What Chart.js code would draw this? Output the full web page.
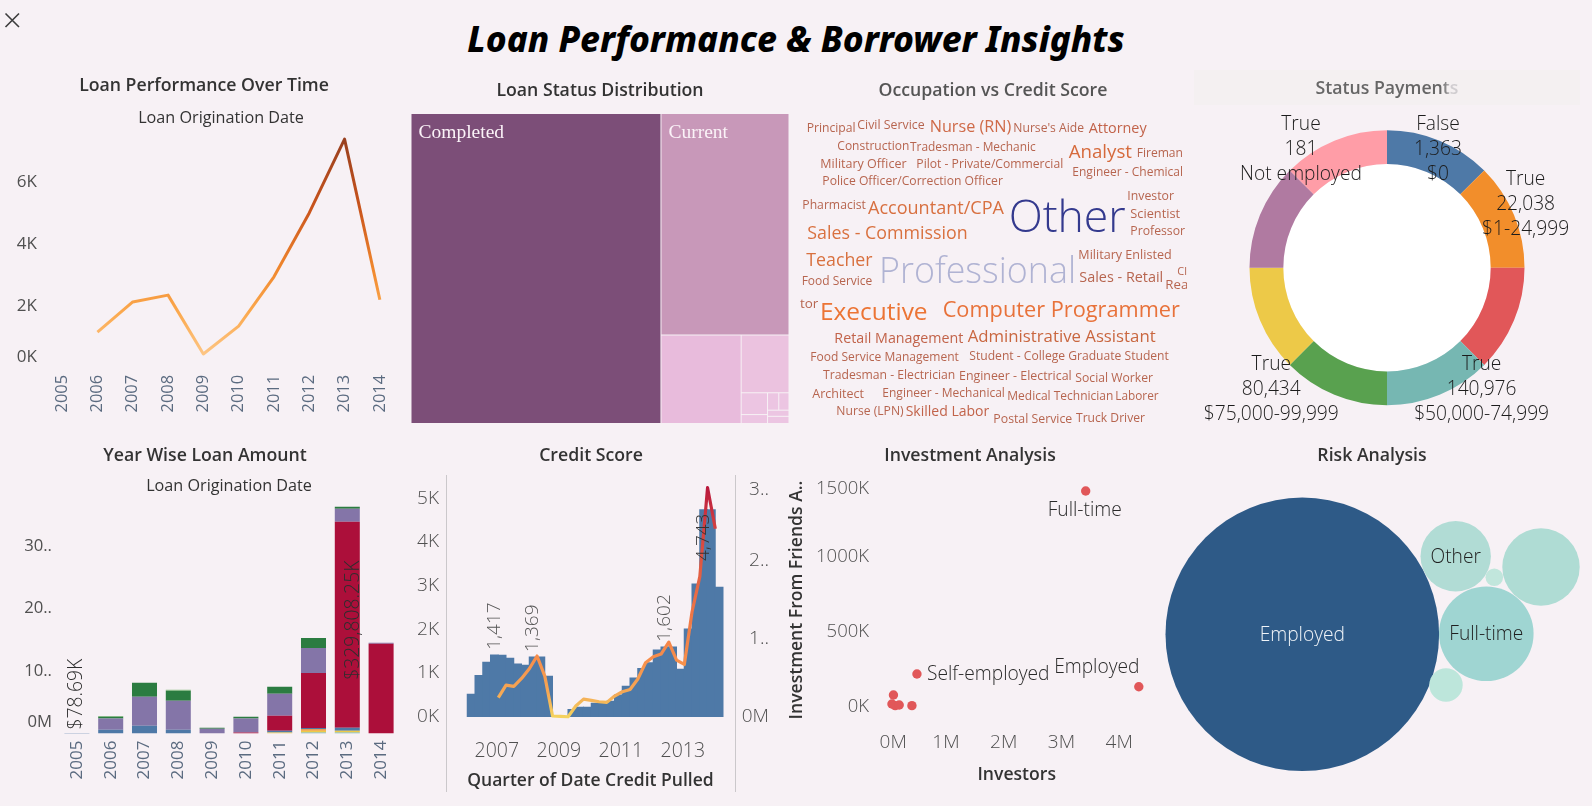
<!DOCTYPE html>
<html>
<head>
<meta charset="utf-8">
<title>Loan Performance &amp; Borrower Insights</title>
<script src="https://cdn.jsdelivr.net/npm/chart.js@4"></script>
<style>
html,body{margin:0;padding:0;width:1592px;height:806px;overflow:hidden;background:#f7f1f5;}
#root{position:relative;width:1592px;height:806px;}
canvas{position:absolute;display:block;}
h1{position:absolute;left:0;top:15px;width:1592px;margin:0;text-align:center;font:italic 800 35.2px/46px "Noto Sans",sans-serif;color:#000;}
.rule{position:absolute;width:1px;background:#cbc8cb;}
#statusBand{position:absolute;left:1194px;top:70px;width:386px;height:35px;background:#f4f0f1;}
svg{position:absolute;left:0;top:8px;}
</style>
</head>
<body>
<div id="root">
<svg width="26" height="26"><path d="M5.5 5.5L19 19M19 5.5L5.5 19" stroke="#3d3d3d" stroke-width="1.6" fill="none"/></svg>
<h1>Loan Performance &amp; Borrower Insights</h1>
<div id="statusBand"></div>
<div class="rule" style="left:446px;top:475px;height:317px"></div>
<div class="rule" style="left:735px;top:475px;height:317px"></div>
</div>
<script>
/* ---------- data ---------- */
const years = ['2005','2006','2007','2008','2009','2010','2011','2012','2013','2014'];
const loansPerYear = [null,1160,2130,2350,450,1350,2940,5000,7380,2200];

const amountTeal      = [0,0,0,0,0,0,0,0.16,0.16,0];
const amountYellow    = [0,0,0,0,0,0,0.16,0.27,0.27,0];
const amountOrange    = [0,0,0,0,0,0,0,0.27,0,0];
const amountBlue      = [0.0787,0.59,1.23,0.59,0,0,0.27,0.2,0.48,0];
const amountCrimson   = [0,0,0,0,0,0.16,2.4,8.8,32.96,14.35];
const amountPurple    = [0,1.81,4.64,4.64,0.75,2.24,3.52,4.0,2.08,0.16];
const amountGreen     = [0,0.27,2.24,1.6,0.16,0.27,1.12,1.6,0.32,0];
const amountLightGreen= [0,0.15,0,0.16,0,0,0,0,0,0];

const statusNames  = ['Completed','Current','Chargedoff','Defaulted','Past Due (1-15 days)','Past Due (31-60 days)','Past Due (61-90 days)','Past Due (91-120 days)','Past Due (16-30 days)','FinalPaymentInProgress'];
const statusCounts = [74040,27100,6776,2640,550,225,187,170,126,147];

const occupations = ['Principal','Civil Service','Nurse (RN)',"Nurse's Aide",'Attorney','Construction','Tradesman - Mechanic','Analyst','Fireman','Military Officer','Pilot - Private/Commercial','Engineer - Chemical','Police Officer/Correction Officer','Pharmacist','Accountant/CPA','Other','Investor','Scientist','Professor','Sales - Commission','Teacher','Professional','Military Enlisted','Cl','Sales - Retail','Rea','Food Service','tor','Executive','Computer Programmer','Retail Management','Administrative Assistant','Food Service Management','Student - College Graduate Student','Tradesman - Electrician','Engineer - Electrical','Social Worker','Architect','Engineer - Mechanical','Medical Technician','Laborer','Nurse (LPN)','Skilled Labor','Postal Service','Truck Driver'];

const paymentLabels = [['False','1,363','$0'],['True','22,038','$1-24,999'],null,['True','140,976','$50,000-74,999'],['True','80,434','$75,000-99,999'],null,null,['True','181','Not employed']];
const paymentShares = [1,1,1,1,1,1,1,1];

const quarterBars = [2006.25,2006.5,2006.75,2007,2007.25,2007.5,2007.75,2008,2008.25,2008.5,2008.75,2009,2009.25,2009.5,2009.75,2010,2010.25,2010.5,2010.75,2011,2011.25,2011.5,2011.75,2012,2012.25,2012.5,2012.75,2013,2013.25,2013.5,2013.75,2014,2014.25];
const creditBars  = [520,950,1250,1417,1410,1340,1210,1180,1369,1369,930,10,0,170,220,220,310,310,360,500,700,890,1110,1240,1530,1600,1602,1090,2010,3040,4743,4743,2970];
const quarterLine = [2007,2007.25,2007.5,2007.75,2008,2008.25,2008.5,2008.75,2009,2009.25,2009.5,2009.75,2010,2010.25,2010.5,2010.75,2011,2011.25,2011.5,2011.75,2012,2012.25,2012.5,2012.75,2013,2013.25,2013.5,2013.75,2014];
const creditLine  = [2.44,4.06,3.89,4.91,6.15,7.78,5.21,0.09,0.05,0,1.37,2.26,2.09,1.92,1.84,2.65,3.2,3.5,4.83,6.92,7.69,8.03,9.57,7.26,6.7,13.46,17.95,29.36,24.1];

const investors   = [3.42,4.34,0.497,0.09,0.064,0.12,0.19,0.41];
const friendsK    = [1438,133,218,78,18,7,11,7];
const investNames = ['Full-time','Employed','Self-employed',null,null,null,null,null];

const riskNames  = ['Employed','Full-time','Other','',' ','  '];
const riskValues = [18714,2237,1239,1498,279,77];

/* ---------- layout and style tables ---------- */
const FONT = '"Open Sans", sans-serif';
const TICK = '#505050';
const INK  = '#333333';
Chart.defaults.animation = false;
Chart.defaults.responsive = false;
Chart.defaults.font.family = FONT;
Chart.defaults.layout.autoPadding = false;
Chart.defaults.plugins.legend.display = false;
Chart.defaults.plugins.tooltip.enabled = false;

const root = document.getElementById('root');
function canvasAt(l,t,w,h){
  const c = document.createElement('canvas');
  c.width = w; c.height = h;
  c.style.left = l+'px'; c.style.top = t+'px';
  c.style.width = w+'px'; c.style.height = h+'px';
  root.appendChild(c);
  return c;
}
function panelTitle(text, top, bottom, color){
  return {display:true,text,color:color||INK,padding:{top,bottom},
          font:{size:17.7,weight:'600',lineHeight:20.4/17.7,family:FONT}};
}
function plain(extra){
  return Object.assign({grid:{display:false,drawTicks:false},border:{display:false}},extra);
}
function spacer(w){
  return plain({type:'linear',position:'right',weight:10,afterFit:s=>{s.width=w;},ticks:{display:false}});
}
function tickFont(size, special, weight){
  return c => (c.tick && special && special[c.tick.value])
    ? {size, weight, lineHeight:special[c.tick.value], family:FONT}
    : {size, weight, family:FONT};
}
function yearAxis(h,pad,size){
  return plain({offset:true,afterFit:s=>{s.height=h;},
    ticks:{autoSkip:false,minRotation:90,maxRotation:90,padding:pad,color:'#5b6b80',font:{size,family:FONT}}});
}
function headerAxis(h,pad){
  return plain({type:'category',position:'top',afterFit:s=>{s.height=h;},
    ticks:{display:false},
    title:{display:true,text:'Loan Origination Date',color:INK,padding:{top:pad,bottom:0},
           font:{size:16.2,lineHeight:18/16.2,family:FONT}}});
}
function valueGradient(c,axis,hi,lo,stops,fallback){
  const a=c.chart.chartArea,s=c.chart.scales[axis];
  if(!a||!s) return fallback;
  const y0=s.getPixelForValue(hi),y1=s.getPixelForValue(lo);
  if(!isFinite(y0)||!isFinite(y1)) return fallback;
  const g=c.chart.ctx.createLinearGradient(0,y0,0,y1);
  stops.forEach(([o,col])=>g.addColorStop(o,col));
  return g;
}
function drawText(ctx,text,x,y,o){
  ctx.save();
  ctx.font = o.font;
  ctx.fillStyle = o.color;
  ctx.textAlign = o.align||'center';
  ctx.textBaseline = 'middle';
  ctx.translate(x,y);
  if(o.rot) ctx.rotate(o.rot);
  ctx.fillText(text,0,0);
  ctx.restore();
}

/* ---------- 1 Loan Performance Over Time ---------- */
new Chart(canvasAt(0,70,408,358),{
  type:'line',
  data:{labels:years,datasets:[{
    data:loansPerYear,borderWidth:3,pointRadius:0,tension:0,spanGaps:false,
    borderJoinStyle:'round',
    borderColor:c=>valueGradient(c,'y',7400,400,[[0,'#98401f'],[.32,'#c9541c'],[.6,'#f0872d'],[.8,'#fba94e'],[1,'#fdc685']],'#f28e2b')
  }]},
  options:{
    plugins:{title:panelTitle('Loan Performance Over Time',6,0)},
    scales:{
      x:yearAxis(60,7,16.4),
      x2:headerAxis(30.6,12.6),
      y:plain({min:0,max:7770,afterFit:s=>{s.width=44.5;},
        afterBuildTicks:s=>{s.ticks=[0,2000,4000,6000].map(value=>({value}));},
        ticks:{padding:7.5,color:TICK,font:tickFont(17,{0:1.3}),
          callback:v=>v===0?['0K','']:(v/1000)+'K'}}),
      yPad:spacer(10.5)
    }
  }
});

/* ---------- 2 Loan Status Distribution (treemap) ---------- */
const treeShape = ['h',0,['v',1,['h',2,['v',3,['h',['v',4,5],['v',['h',6,7],['v',8,9]]]]]]];
const treeColors = ['#7c4e78','#c898b9','#e8bbdc','#ebc2df','#ecc5e2','#ecc5e2','#ecc5e2','#ecc5e2','#ecc5e2','#ecc5e2'];
function treeWeight(n,vals){return typeof n==='number'?vals[n]:n.slice(1).reduce((a,k)=>a+treeWeight(k,vals),0);}
function treeLayout(n,vals,x0,x1,y0,y1,out){
  if(typeof n==='number'){out[n]={x0,x1,y0,y1};return out;}
  const total=treeWeight(n,vals);let pos=0;
  n.slice(1).forEach(k=>{
    const a=pos/total,b=(pos+treeWeight(k,vals))/total;pos+=treeWeight(k,vals);
    if(n[0]==='h') treeLayout(k,vals,x0+(x1-x0)*a,x0+(x1-x0)*b,y0,y1,out);
    else treeLayout(k,vals,x0,x1,y0+(y1-y0)*a,y0+(y1-y0)*b,out);
  });
  return out;
}
class TreemapController extends Chart.DatasetController{
  update(mode){const m=this._cachedMeta;this.updateElements(m.data,0,m.data.length,mode);}
  updateElements(els,start,count,mode){
    const {x,y}=this.chart.scales;
    const cells=treeLayout(treeShape,this.getDataset().data,0,1,0,1,[]);
    for(let i=start;i<start+count;i++){
      const c=cells[i],l=x.getPixelForValue(c.x0),r=x.getPixelForValue(c.x1),t=y.getPixelForValue(c.y0),b=y.getPixelForValue(c.y1);
      this.updateElement(els[i],i,{x:(l+r)/2,y:t,base:b-1,width:r-l-1,height:b-1-t,horizontal:false,
        borderSkipped:{},enableBorderRadius:false,inflateAmount:0,
        options:this.resolveDataElementOptions(i,mode)},mode);
    }
  }
  draw(){const c=this.chart;this._cachedMeta.data.forEach(e=>e.draw(c.ctx,c.chartArea));}
}
TreemapController.id='treemapCells';
TreemapController.defaults={dataElementType:'bar'};
Chart.register(TreemapController);
new Chart(canvasAt(411,70,378,354),{
  type:'treemapCells',
  data:{labels:statusNames,datasets:[{data:statusCounts,backgroundColor:treeColors,borderWidth:0}]},
  options:{
    plugins:{title:panelTitle('Loan Status Distribution',10.3,13.3)},
    scales:{x:{type:'linear',display:false,min:0,max:1},y:{type:'linear',display:false,min:0,max:1,reverse:true}}
  },
  plugins:[{id:'statusText',afterDatasetsDraw(c){
    const els=c.getDatasetMeta(0).data;
    [0,1].forEach(i=>{
      drawText(c.ctx,statusNames[i],els[i].x-els[i].width/2+7,els[i].y+19,
        {font:'19.5px "Liberation Serif", serif',color:'#fbf3f8',align:'left'});
    });
  }}]
});

/* ---------- 3 Occupation vs Credit Score (word cloud) ---------- */
const wordLeft  = [80,232,449,700,926,172,390,866,1070,121,409,877,127,67,264,686,1042,1051,1051,82,79,297,895,1192,898,1156,65,60,120,488,163,563,91,568,129,537,886,97,307,682,1006,169,377,640,888];
const wordRight = [227,434,694,912,1100,388,767,1056,1209,380,850,1209,669,258,672,1037,1182,1200,1215,563,278,888,1175,1221,1150,1225,277,115,443,1200,550,1127,537,1167,526,875,1119,252,675,1000,1136,371,628,877,1095];
const wordMid   = [173,162,167,173,171,225,228,243,248,279,279,305,332,402,410,432,375,428,480,486,566,597,552,603,618,640,632,697,722,716,803,797,860,857,914,915,923,968,968,977,975,1020,1022,1043,1043];
const wordTone  = {'Other':'#343a8e','Professional':'#b0b3d3','Executive':'#ec7434','Computer Programmer':'#e8723a','Analyst':'#d66a3c','Accountant/CPA':'#d87040','Sales - Commission':'#d9713f','Teacher':'#d8703e','Administrative Assistant':'#c9663f','Nurse (RN)':'#cf6a48','Retail Management':'#c2634a','Skilled Labor':'#c2634a','Attorney':'#c2634a'};
new Chart(canvasAt(799,70,388,358),{
  type:'scatter',
  data:{labels:occupations,datasets:[{
    data:occupations.map((w,i)=>({x:780+(wordLeft[i]+wordRight[i])/6,y:70+wordMid[i]/3})),
    pointRadius:0}]},
  options:{
    plugins:{title:panelTitle('Occupation vs Credit Score',10.3,0,'#555555')},
    scales:{x:{display:false,min:799,max:1187},y:{display:false,min:100.7,max:428,reverse:true}}
  },
  plugins:[{id:'wordText',afterDatasetsDraw(c){
    const ctx=c.ctx,sx=c.scales.x,sy=c.scales.y;
    occupations.forEach((w,i)=>{
      const big=(w==='Other'||w==='Professional');
      const weight=big?'300':'400';
      ctx.font=weight+' 40px '+FONT;
      const wide=(wordRight[i]-wordLeft[i])/3;
      const size=Math.min(50,40*wide/ctx.measureText(w).width);
      const px=sx.getPixelForValue(780+wordLeft[i]/3);
      drawText(ctx,w,px,sy.getPixelForValue(70+wordMid[i]/3)+size*0.11,
        {font:weight+' '+size.toFixed(2)+'px '+FONT,color:wordTone[w]||'#b7654f',align:'left'});
    });
  }}]
});

/* ---------- 4 Status Payments ---------- */
const statusCanvas = canvasAt(1194,70,386,360);
const statusTitleInk = statusCanvas.getContext('2d').createLinearGradient(-193,0,193,0);
statusTitleInk.addColorStop(0,'#666666');statusTitleInk.addColorStop(.645,'#666666');statusTitleInk.addColorStop(.665,'#d0cdd0');statusTitleInk.addColorStop(1,'#d0cdd0');
const payDx=[51,138.6,0,94.6,-115.7,0,0,-86];
const payDy=[-118,-63,0,122,122,0,0,-118];
new Chart(statusCanvas,{
  type:'doughnut',
  data:{labels:paymentLabels.map(l=>l?l[2]:''),datasets:[
    {data:paymentShares,weight:33.8,borderWidth:0,
     backgroundColor:['#4e79a7','#f28e2b','#e15759','#76b7b2','#59a14f','#edc948','#b07aa1','#ff9da7']},
    {data:[1],weight:103.7,borderWidth:0,backgroundColor:'#ffffff'}
  ]},
  options:{
    cutout:0,
    layout:{padding:{bottom:24.8}},
    plugins:{title:panelTitle('Status Payments',8.8,31,statusTitleInk)}
  },
  plugins:[{id:'payText',afterDatasetsDraw(c){
    const a=c.chartArea,cx=(a.left+a.right)/2,cy=(a.top+a.bottom)/2;
    paymentLabels.forEach((lines,i)=>{
      if(!lines) return;
      lines.forEach((t,j)=>drawText(c.ctx,t,cx+payDx[i],cy+payDy[i]+(j-1)*25,
        {font:'300 19.2px '+FONT,color:'#1c1c1c'}));
    });
  }}]
});

/* ---------- 5 Year Wise Loan Amount ---------- */
function stackSet(data,color){return {data,backgroundColor:color,borderWidth:0,barPercentage:1,categoryPercentage:.74};}
const amountTotals = years.map((y,i)=>[amountTeal,amountYellow,amountOrange,amountBlue,amountCrimson,amountPurple,amountGreen,amountLightGreen].reduce((a,s)=>a+s[i],0));
const amountNotes = [[0,'$78.69K'],[8,'$329,808.25K']];
new Chart(canvasAt(0,435,410,365),{
  type:'bar',
  data:{labels:years,datasets:[
    stackSet(amountTeal,'#76b7b2'),stackSet(amountYellow,'#edc948'),stackSet(amountOrange,'#f28e2b'),
    stackSet(amountBlue,'#4e79a7'),stackSet(amountCrimson,'#ac0f3a'),stackSet(amountPurple,'#8475a8'),
    stackSet(amountGreen,'#2b7c41'),stackSet(amountLightGreen,'#8cc084')]},
  options:{
    plugins:{title:panelTitle('Year Wise Loan Amount',10.3,0)},
    scales:{
      x:Object.assign(yearAxis(66.5,7,17),{stacked:true}),
      x2:headerAxis(31.3,11.4),
      y:plain({stacked:true,min:0,max:37.84,afterFit:s=>{s.width=60;},
        afterBuildTicks:s=>{s.ticks=[0,10,20,30].map(value=>({value}));},
        ticks:{padding:8,color:TICK,font:tickFont(16.7,{0:1.38}),
          callback:v=>v===0?['0M','']:(v/10)+'0..'}}),
      yPad:spacer(12)
    }
  },
  plugins:[{id:'amountText',afterDatasetsDraw(c){
    const ctx=c.ctx,f='300 19.3px '+FONT;
    amountNotes.forEach(([i,t])=>{
      ctx.font=f;
      const half=ctx.measureText(t).width/2;
      const y=Math.min(c.scales.y.getPixelForValue(amountTotals[i]/2),c.scales.y.getPixelForValue(0)-half-4);
      const tickX=c.scales.x.getPixelForTick(i)+(i===8?6:0);
      drawText(ctx,t,tickX,y,{font:f,color:'#2e2e2e',rot:-Math.PI/2});
    });
  }}]
});

/* ---------- 6 Credit Score ---------- */
const creditNotes=[[3.5,'above'],[8.5,'above'],[25.5,'above'],[30.5,'inside']];
new Chart(canvasAt(400,435,382,365),{
  type:'bar',
  data:{datasets:[
    {type:'line',order:1,xAxisID:'x',yAxisID:'yR',data:quarterLine.map((q,i)=>({x:q,y:creditLine[i]})),
     borderWidth:3.2,pointRadius:0,tension:0,borderJoinStyle:'round',
     borderColor:c=>valueGradient(c,'yR',29.4,0,[[0,'#b9183c'],[.15,'#d03c40'],[.45,'#e86a44'],[.75,'#f78e4b'],[.9,'#f5a955'],[1,'#f4d25e']],'#f28e2b')
    },
    {type:'bar',order:2,xAxisID:'xBar',yAxisID:'y',data:quarterBars.map((q,i)=>({x:q,y:creditBars[i]})),
     backgroundColor:'#4e79a7',borderWidth:0,barThickness:8.1}
  ]},
  options:{
    plugins:{title:panelTitle('Credit Score',10.3,9.3)},
    scales:{
      x:plain({type:'linear',offset:false,min:2005.313,max:2014.635,afterFit:s=>{s.height=68.3;},
        afterBuildTicks:s=>{s.ticks=[2007,2009,2011,2013].map(value=>({value}));},
        ticks:{padding:8,color:TICK,labelOffset:-1.5,maxRotation:0,font:{size:19.5,weight:'300',family:FONT},callback:v=>String(v)},
        title:{display:true,text:'Quarter of Date Credit Pulled',color:INK,padding:{top:0,bottom:9},
               font:{size:17.5,weight:'600',lineHeight:20/17.5,family:FONT}}}),
      xBar:{type:'linear',display:false,offset:false,min:2005.57,max:2014.893},
      y:plain({position:'left',min:-343.5,max:5534,afterFit:s=>{s.width=46;},
        afterBuildTicks:s=>{s.ticks=[0,1000,2000,3000,4000,5000].map(value=>({value}));},
        ticks:{padding:7,color:TICK,font:{size:19,weight:'300',family:FONT},callback:v=>(v/1000)+'K'}}),
      yR:plain({position:'right',min:-1.92,max:30.99,afterFit:s=>{s.width=34;},
        afterBuildTicks:s=>{s.ticks=[0,10,20,30].map(value=>({value}));},
        ticks:{crossAlign:'far',color:TICK,font:tickFont(19,{30:.7},'300'),
          callback:v=>v===0?'0M':v===30?['','3..']:(v/10)+'..'}}),
      yPad:spacer(13)
    }
  },
  plugins:[{id:'creditText',afterDatasetsDraw(c){
    const ctx=c.ctx,f='300 19px '+FONT;
    creditNotes.forEach(([k,mode])=>{
      const lo=Math.floor(k),v=Math.max(creditBars[lo],creditBars[lo+1]);
      const x=c.scales.xBar.getPixelForValue(quarterBars[0]+k/4);
      const t=v.toLocaleString('en-US');
      ctx.font=f;
      const half=ctx.measureText(t).width/2;
      const top=c.scales.y.getPixelForValue(v);
      const y=mode==='above'?top-half-5:top+half+4;
      drawText(ctx,t,x,y,{font:f,color:mode==='above'?'#555555':'#333333',rot:-Math.PI/2});
    });
  }}]
});

/* ---------- 7 Investment Analysis ---------- */
const investOffsetX=[-1,-42,10,0,0,0,0,0];
const investOffsetY=[20,-19,1,0,0,0,0,0];
const investAlign=['center','center','left','center','center','center','center','center'];
new Chart(canvasAt(775,435,390,365),{
  type:'scatter',
  data:{datasets:[{data:investors.map((x,i)=>({x,y:friendsK[i]})),backgroundColor:'#e15759',pointRadius:4.7,borderWidth:0}]},
  options:{
    plugins:{title:panelTitle('Investment Analysis',10.3,12.3)},
    scales:{
      x:plain({type:'linear',min:-0.2,max:4.65,afterFit:s=>{s.height=78;},
        afterBuildTicks:s=>{s.ticks=[0,1,2,3,4].map(value=>({value}));},
        ticks:{padding:9,color:TICK,maxRotation:0,font:{size:19,weight:'300',family:FONT},callback:v=>v===0?'\u00a0\u00a00M':v+'M'},
        title:{display:true,text:'Investors',color:INK,padding:{top:0,bottom:14.8},
               font:{size:17.6,weight:'600',lineHeight:20.4/17.6,family:FONT}}}),
      y:plain({min:-102,max:1524.7,afterFit:s=>{s.width=101.7;},
        afterBuildTicks:s=>{s.ticks=[0,500,1000,1500].map(value=>({value}));},
        ticks:{padding:7.7,color:TICK,font:tickFont(18.5,{1500:.76},'300'),
          callback:v=>v===1500?['','1500K']:v+'K'},
        title:{display:true,text:'Investment From Friends A..',color:INK,padding:{top:12,bottom:0},
               font:{size:17.6,weight:'600',lineHeight:20/17.6,family:FONT}}}),
      yPad:spacer(8.3)
    }
  },
  plugins:[{id:'investText',afterDatasetsDraw(c){
    const pts=c.getDatasetMeta(0).data;
    investNames.forEach((t,i)=>{
      if(!t) return;
      drawText(c.ctx,t,pts[i].x+investOffsetX[i],pts[i].y+investOffsetY[i],
        {font:'300 19.2px '+FONT,color:'#2a2a2a',align:investAlign[i]});
    });
  }}]
});

/* ---------- 8 Risk Analysis (packed bubbles) ---------- */
const riskX=[1302.3,1486.3,1455.7,1541,1446,1494.3];
const riskY=[634.3,633.7,556.3,567,685,577.3];
const riskFill=['#2e5a87','#9fd5d2','#b1dcd5','#afdcd4','#bde6db','#c1e6dc'];
const riskInk=['#f0f4f8','#1f1f1f','#1f1f1f','','',''];
new Chart(canvasAt(1152,435,440,365),{
  type:'bubble',
  data:{labels:riskNames,datasets:[{
    data:riskValues.map((v,i)=>({x:riskX[i],y:riskY[i],r:Math.sqrt(v)})),
    backgroundColor:riskFill,borderWidth:0,clip:false}]},
  options:{
    plugins:{title:panelTitle('Risk Analysis',10.3,0)},
    scales:{x:{display:false,min:1152,max:1592},y:{display:false,min:465.7,max:800,reverse:true}}
  },
  plugins:[{id:'riskText',afterDatasetsDraw(c){
    const pts=c.getDatasetMeta(0).data;
    riskNames.forEach((t,i)=>{
      if(!t.trim()) return;
      drawText(c.ctx,t,pts[i].x,pts[i].y+1,{font:'300 19.2px '+FONT,color:riskInk[i]});
    });
  }}]
});
</script>
</body>
</html>
